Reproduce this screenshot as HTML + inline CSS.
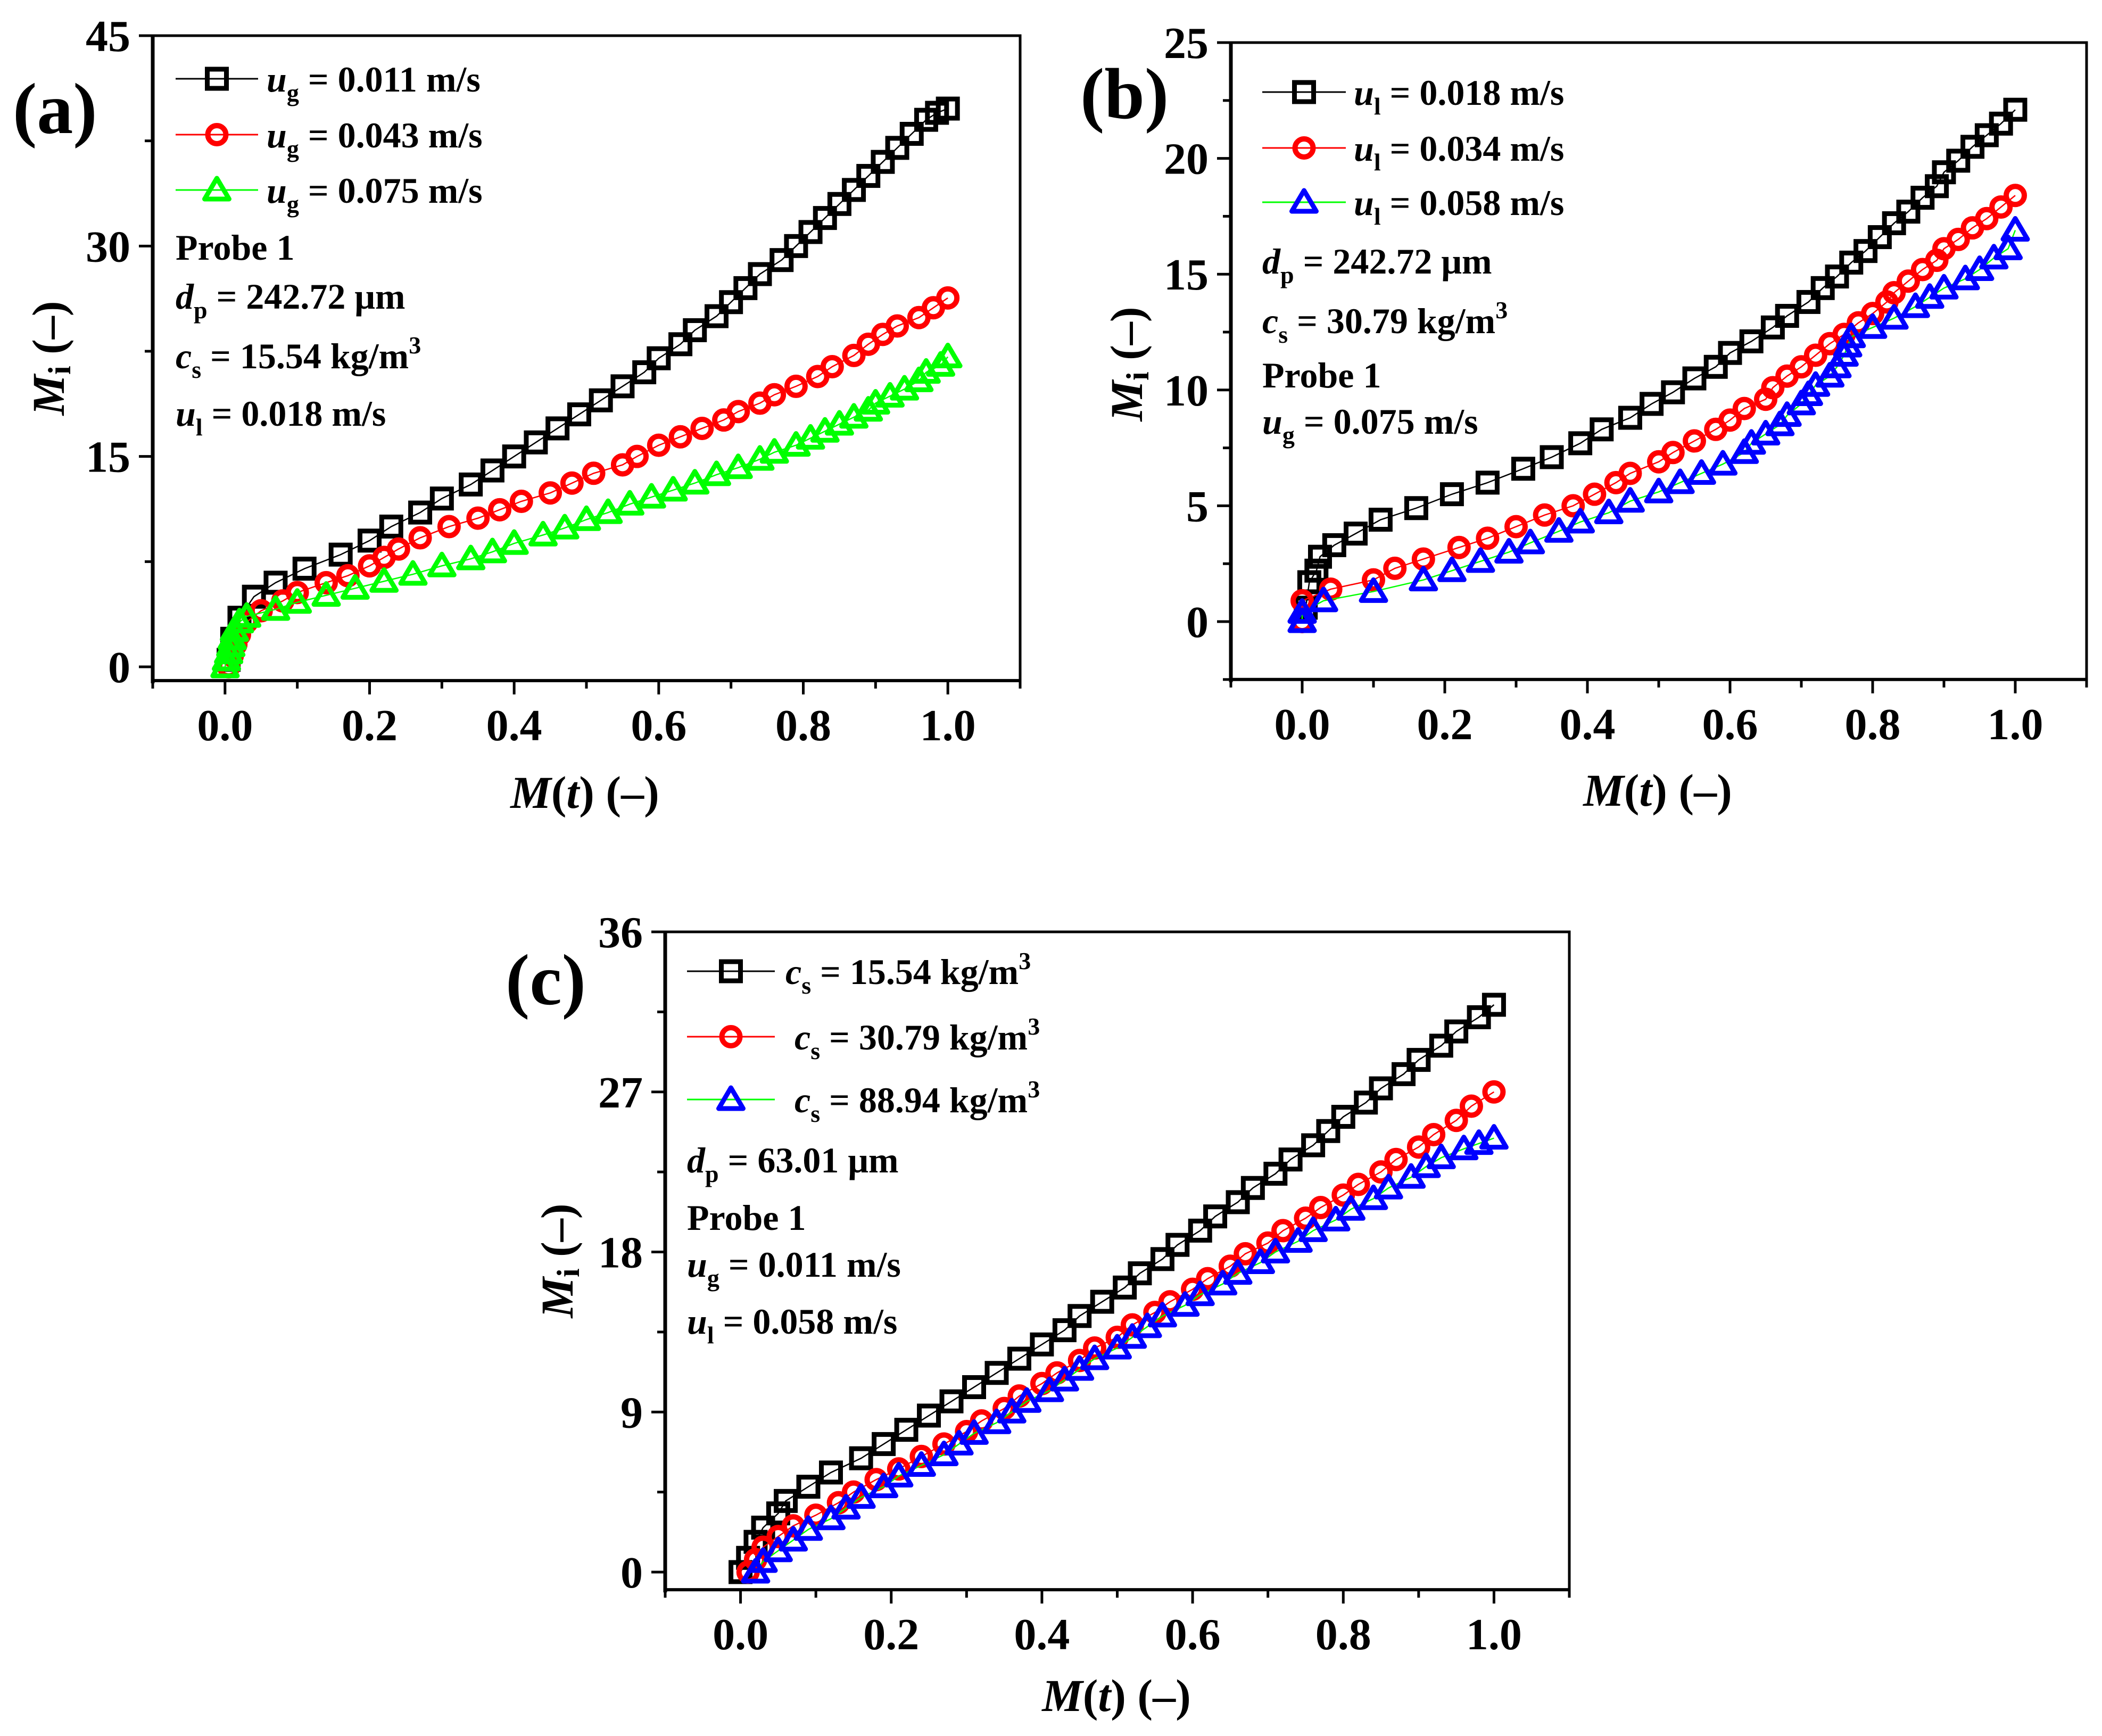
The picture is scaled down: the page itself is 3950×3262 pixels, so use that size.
<!DOCTYPE html>
<html><head><meta charset="utf-8"><style>
html,body{margin:0;padding:0;background:#fff;}
svg{display:block;font-family:"Liberation Serif","DejaVu Serif",serif;font-weight:bold;}
</style></head><body>
<svg id="fig" xmlns="http://www.w3.org/2000/svg" width="3950" height="3262" viewBox="0 0 3950 3262">
<rect width="3950" height="3262" fill="#fff"/>
<g id="pa"></g>
<g id="pb"></g>
<g id="pc"></g>

<text x="24" y="250" font-size="136">(a)</text>
<text x="1099" y="1518" font-size="86" text-anchor="middle"><tspan font-style="italic">M</tspan>(<tspan font-style="italic">t</tspan>) (–)</text>
<text transform="translate(120,673) rotate(-90)" font-size="86" text-anchor="middle"><tspan font-style="italic">M</tspan><tspan font-size="60" dy="12">i</tspan><tspan dy="-12"> (–)</tspan></text>
<g font-size="68">
<text x="501" y="172"><tspan font-style="italic">u</tspan><tspan font-size="46" dy="18">g</tspan><tspan dy="-18"> = 0.011 m/s</tspan></text>
<text x="501" y="277"><tspan font-style="italic">u</tspan><tspan font-size="46" dy="18">g</tspan><tspan dy="-18"> = 0.043 m/s</tspan></text>
<text x="501" y="381"><tspan font-style="italic">u</tspan><tspan font-size="46" dy="18">g</tspan><tspan dy="-18"> = 0.075 m/s</tspan></text>
<text x="330" y="488">Probe 1</text>
<text x="330" y="580"><tspan font-style="italic">d</tspan><tspan font-size="46" dy="18">p</tspan><tspan dy="-18"> = 242.72 μm</tspan></text>
<text x="330" y="692"><tspan font-style="italic">c</tspan><tspan font-size="46" dy="18">s</tspan><tspan dy="-18"> = 15.54 kg/m</tspan><tspan font-size="46" dy="-28">3</tspan></text>
<text x="330" y="800"><tspan font-style="italic">u</tspan><tspan font-size="46" dy="18">l</tspan><tspan dy="-18"> = 0.018 m/s</tspan></text>
</g>

<text x="2030" y="222" font-size="136">(b)</text>
<text x="3115" y="1514" font-size="86" text-anchor="middle"><tspan font-style="italic">M</tspan>(<tspan font-style="italic">t</tspan>) (–)</text>
<text transform="translate(2146,684) rotate(-90)" font-size="86" text-anchor="middle"><tspan font-style="italic">M</tspan><tspan font-size="60" dy="12">i</tspan><tspan dy="-12"> (–)</tspan></text>
<g font-size="68">
<text x="2544" y="197"><tspan font-style="italic">u</tspan><tspan font-size="46" dy="18">l</tspan><tspan dy="-18"> = 0.018 m/s</tspan></text>
<text x="2544" y="302"><tspan font-style="italic">u</tspan><tspan font-size="46" dy="18">l</tspan><tspan dy="-18"> = 0.034 m/s</tspan></text>
<text x="2544" y="404"><tspan font-style="italic">u</tspan><tspan font-size="46" dy="18">l</tspan><tspan dy="-18"> = 0.058 m/s</tspan></text>
<text x="2372" y="514"><tspan font-style="italic">d</tspan><tspan font-size="46" dy="18">p</tspan><tspan dy="-18"> = 242.72 μm</tspan></text>
<text x="2372" y="626"><tspan font-style="italic">c</tspan><tspan font-size="46" dy="18">s</tspan><tspan dy="-18"> = 30.79 kg/m</tspan><tspan font-size="46" dy="-28">3</tspan></text>
<text x="2372" y="728">Probe 1</text>
<text x="2372" y="815"><tspan font-style="italic">u</tspan><tspan font-size="46" dy="18">g</tspan><tspan dy="-18"> = 0.075 m/s</tspan></text>
</g>

<text x="950" y="1887" font-size="136">(c)</text>
<text x="2098" y="3215" font-size="86" text-anchor="middle"><tspan font-style="italic">M</tspan>(<tspan font-style="italic">t</tspan>) (–)</text>
<text transform="translate(1076,2369) rotate(-90)" font-size="86" text-anchor="middle"><tspan font-style="italic">M</tspan><tspan font-size="60" dy="12">i</tspan><tspan dy="-12"> (–)</tspan></text>
<g font-size="68">
<text x="1476" y="1849"><tspan font-style="italic">c</tspan><tspan font-size="46" dy="18">s</tspan><tspan dy="-18"> = 15.54 kg/m</tspan><tspan font-size="46" dy="-28">3</tspan></text>
<text x="1493" y="1972"><tspan font-style="italic">c</tspan><tspan font-size="46" dy="18">s</tspan><tspan dy="-18"> = 30.79 kg/m</tspan><tspan font-size="46" dy="-28">3</tspan></text>
<text x="1493" y="2090"><tspan font-style="italic">c</tspan><tspan font-size="46" dy="18">s</tspan><tspan dy="-18"> = 88.94 kg/m</tspan><tspan font-size="46" dy="-28">3</tspan></text>
<text x="1291" y="2203"><tspan font-style="italic">d</tspan><tspan font-size="46" dy="18">p</tspan><tspan dy="-18"> = 63.01 μm</tspan></text>
<text x="1291" y="2311">Probe 1</text>
<text x="1291" y="2399"><tspan font-style="italic">u</tspan><tspan font-size="46" dy="18">g</tspan><tspan dy="-18"> = 0.011 m/s</tspan></text>
<text x="1291" y="2506"><tspan font-style="italic">u</tspan><tspan font-size="46" dy="18">l</tspan><tspan dy="-18"> = 0.058 m/s</tspan></text>
</g>
</svg>
<script>
const xTickLabels = ["0.0","0.2","0.4","0.6","0.8","1.0"];
const yTicksA = ["0","15","30","45"];
const yTicksB = ["0","5","10","15","20","25"];
const yTicksC = ["0","9","18","27","36"];

const aBlackX = [0.005,0.01,0.02,0.04,0.07,0.11,0.16,0.2,0.23,0.27,0.3,0.34,0.37,0.4,0.43,0.46,0.49,0.52,0.55,0.58,0.6,0.63,0.65,0.68,0.7,0.72,0.74,0.77,0.79,0.81,0.83,0.85,0.87,0.89,0.91,0.93,0.95,0.97,0.985,1.0];
const aBlackY = [0.5,2,3.5,5,6,7,8,9,10,11,12,13,14,15,16,17,18,19,20,21,22,23,24,25,26,27,28,29,30,31,32,33,34,35,36,37,38,39,39.5,39.8];
const aRedX = [0.005,0.01,0.015,0.02,0.03,0.05,0.08,0.1,0.14,0.17,0.2,0.22,0.24,0.27,0.31,0.35,0.38,0.41,0.45,0.48,0.51,0.55,0.57,0.6,0.63,0.66,0.69,0.71,0.74,0.76,0.79,0.82,0.84,0.87,0.89,0.91,0.93,0.96,0.98,1.0];
const aRedY = [0,0.8,1.6,2.3,3.2,4,4.7,5.3,6,6.5,7.2,7.8,8.4,9.2,10,10.6,11.2,11.8,12.4,13.1,13.8,14.4,15,15.8,16.4,17,17.6,18.2,18.8,19.4,20,20.7,21.4,22.2,23,23.7,24.3,24.9,25.6,26.3];
const aGreenX = [0,0.002,0.005,0.008,0.01,0.013,0.02,0.03,0.07,0.1,0.14,0.18,0.22,0.26,0.3,0.34,0.37,0.4,0.44,0.47,0.5,0.53,0.56,0.59,0.62,0.65,0.68,0.71,0.74,0.76,0.79,0.81,0.83,0.85,0.87,0.89,0.9,0.92,0.94,0.96,0.97,0.99,1.0];
const aGreenY = [0,0.5,1,1.5,2,2.6,3.2,3.6,4.1,4.6,5.1,5.6,6.1,6.6,7.2,7.7,8.2,8.8,9.4,9.9,10.5,11,11.6,12.1,12.6,13.1,13.7,14.2,14.8,15.3,15.8,16.3,16.8,17.3,17.8,18.3,18.8,19.3,19.8,20.4,21,21.5,22.1];

const bBlackX = [0.005,0.01,0.02,0.025,0.045,0.075,0.11,0.16,0.21,0.26,0.31,0.35,0.39,0.42,0.46,0.49,0.52,0.55,0.58,0.6,0.63,0.66,0.68,0.71,0.73,0.75,0.77,0.79,0.81,0.83,0.85,0.87,0.89,0.9,0.92,0.94,0.96,0.98,1.0];
const bBlackY = [0.6,1.7,2.2,2.8,3.3,3.8,4.4,4.9,5.5,6,6.6,7.1,7.7,8.3,8.8,9.4,9.9,10.5,11,11.6,12.1,12.7,13.2,13.8,14.4,14.9,15.5,16,16.6,17.2,17.7,18.3,18.8,19.4,19.9,20.5,21,21.5,22.1];
const bRedX = [0,0,0.04,0.1,0.13,0.17,0.22,0.26,0.3,0.34,0.38,0.41,0.44,0.46,0.5,0.52,0.55,0.58,0.6,0.62,0.65,0.66,0.68,0.7,0.72,0.74,0.76,0.78,0.8,0.82,0.83,0.85,0.87,0.89,0.9,0.92,0.94,0.96,0.98,1.0];
const bRedY = [0,0.9,1.4,1.8,2.3,2.7,3.2,3.6,4.1,4.6,5,5.5,6,6.4,6.9,7.3,7.8,8.3,8.7,9.2,9.6,10.1,10.6,11,11.5,12,12.4,12.9,13.3,13.8,14.2,14.7,15.2,15.6,16.1,16.5,17,17.4,17.9,18.4];
const bBlueX = [0,0,0.03,0.1,0.17,0.21,0.25,0.29,0.32,0.36,0.39,0.43,0.46,0.5,0.53,0.56,0.59,0.62,0.63,0.65,0.67,0.68,0.7,0.71,0.72,0.74,0.75,0.76,0.765,0.77,0.8,0.83,0.86,0.88,0.9,0.93,0.95,0.97,0.99,1.0];
const bBlueY = [0,0.4,0.9,1.3,1.8,2.2,2.6,3.0,3.4,3.9,4.3,4.7,5.2,5.6,6,6.4,6.8,7.3,7.7,8.1,8.5,8.9,9.4,9.8,10.2,10.6,11,11.5,11.9,12.3,12.7,13.1,13.6,14,14.4,14.8,15.2,15.7,16.1,16.9];

const cBlackX = [0,0.01,0.02,0.03,0.05,0.06,0.09,0.12,0.16,0.19,0.22,0.25,0.28,0.31,0.34,0.37,0.4,0.43,0.45,0.48,0.51,0.53,0.56,0.58,0.61,0.63,0.66,0.68,0.71,0.73,0.76,0.78,0.8,0.83,0.85,0.88,0.9,0.93,0.95,0.98,1.0];
const cBlackY = [0,0.8,1.7,2.5,3.3,4,4.8,5.6,6.4,7.2,8,8.8,9.6,10.4,11.2,12,12.8,13.6,14.4,15.2,16,16.8,17.6,18.4,19.2,20,20.8,21.6,22.4,23.2,24,24.8,25.6,26.4,27.2,28,28.8,29.6,30.4,31.2,31.9];
const cRedX = [0.01,0.02,0.03,0.05,0.07,0.1,0.13,0.15,0.18,0.21,0.24,0.27,0.3,0.32,0.35,0.37,0.4,0.42,0.45,0.47,0.5,0.52,0.55,0.57,0.6,0.62,0.65,0.67,0.7,0.72,0.75,0.77,0.8,0.82,0.85,0.87,0.9,0.92,0.95,0.97,1.0];
const cRedY = [0,0.7,1.4,2,2.6,3.2,3.9,4.5,5.2,5.8,6.5,7.2,7.9,8.5,9.2,9.9,10.6,11.2,11.9,12.6,13.2,13.9,14.6,15.2,15.9,16.5,17.2,17.9,18.5,19.2,19.9,20.5,21.2,21.8,22.5,23.2,23.9,24.6,25.4,26.2,27.0];
const cBlueX = [0.02,0.03,0.05,0.07,0.09,0.12,0.14,0.16,0.19,0.21,0.24,0.27,0.29,0.31,0.34,0.36,0.38,0.41,0.43,0.45,0.47,0.5,0.52,0.54,0.56,0.59,0.61,0.64,0.66,0.69,0.71,0.74,0.76,0.79,0.81,0.84,0.86,0.89,0.91,0.93,0.96,0.98,1.0];
const cBlueY = [0,0.6,1.2,1.8,2.4,3,3.6,4.2,4.8,5.4,6,6.6,7.2,7.8,8.4,9,9.6,10.2,10.8,11.4,12,12.6,13.2,13.8,14.4,15,15.6,16.2,16.8,17.4,18,18.6,19.2,19.8,20.4,21,21.6,22.2,22.8,23.3,23.8,24.1,24.4];

const NS = "http://www.w3.org/2000/svg";
function mk(tag, parent, attrs){
  const e = document.createElementNS(NS, tag);
  for (const k in attrs) e.setAttribute(k, attrs[k]);
  parent.appendChild(e);
  return e;
}
function marker(g, shape, cx, cy, color){
  let m;
  if (shape === "sq") m = mk("rect", g, {x:cx-18, y:cy-18, width:36, height:36, fill:"none", stroke:color, "stroke-width":9});
  else if (shape === "ci") m = mk("circle", g, {cx:cx, cy:cy, r:17, fill:"none", stroke:color, "stroke-width":10});
  else m = mk("polygon", g, {points:(cx-23)+","+(cy+17)+" "+(cx+23)+","+(cy+17)+" "+cx+","+(cy-22), fill:"none", stroke:color, "stroke-width":9, "stroke-linejoin":"round"});
  return m;
}
function panel(id, P){
  const g = document.getElementById(id);
  const sx = v => P.x0 + (v - P.xmin) / (P.xmax - P.xmin) * (P.x1 - P.x0);
  const sy = v => P.yZero - v * P.yUnit;
  const bottom = sy(P.ymin), top = sy(P.ymax);
  const fr = mk("rect", g, {x:P.x0, y:top, width:P.x1-P.x0, height:bottom-top, fill:"none", stroke:"#000", "stroke-width":5});
  
  
  const la = mk("line", g, {x1:P.x0, y1:top-2, x2:P.x0, y2:bottom+5, stroke:"#000", "stroke-width":7});
  
  
  const ba = mk("line", g, {x1:P.x0-3, y1:bottom, x2:P.x1+2, y2:bottom, stroke:"#000", "stroke-width":6});
  
  
  for (let i = -1; i <= 11; i++){
    const v = i / 10, x = sx(v), major = (i % 2 === 0 && i >= 0);
    const t = mk("line", g, {x1:x, y1:bottom, x2:x, y2:bottom + (major ? 26 : 15), stroke:"#000", "stroke-width":5});
    
    
  }
  xTickLabels.forEach(s => {
    const tx = mk("text", g, {x:sx(parseFloat(s)), y:bottom + 112, "font-size":84, "text-anchor":"middle"});
    tx.textContent = s;
    
    
  });
  const step = parseFloat(P.yTicks[1]) - parseFloat(P.yTicks[0]);
  for (let v = P.ymin <= -step/2 + 1e-9 ? -step/2 : 0; v <= P.ymax + 1e-9; v += step/2){
    const major = Math.abs(v / step - Math.round(v / step)) < 1e-6;
    const y = sy(v);
    const t = mk("line", g, {x1:P.x0 - (major ? 26 : 15), y1:y, x2:P.x0, y2:y, stroke:"#000", "stroke-width":5});
    
    
  }
  P.yTicks.forEach(s => {
    const ty = mk("text", g, {x:P.x0 - 42, y:sy(parseFloat(s)) + 29, "font-size":84, "text-anchor":"end"});
    ty.textContent = s;
    
    
  });
  P.series.forEach((S, k) => {
    const sg = mk("g", g, {});
    
    
    const pts = S.xs.map((x, i) => sx(x) + "," + sy(S.ys[i])).join(" ");
    const pl = mk("polyline", sg, {points:pts, fill:"none", stroke:S.line, "stroke-width":2.5});
    
    
    S.xs.forEach((x, i) => {
      const m = marker(sg, S.shape, sx(x), sy(S.ys[i]), S.color);
      
      
    });
    const ly = P.legY[k];
    const ll = mk("line", g, {x1:P.legX0, y1:ly, x2:P.legX1, y2:ly, stroke:S.line, "stroke-width":3});
    
    
    const lm = marker(g, S.shape, (P.legX0 + P.legX1) / 2, ly, S.color);
    
    
  });
}
panel("pa", {x0:287, x1:1917, xmin:-0.1, xmax:1.1, yZero:1253, yUnit:(1253-67)/45, ymin:-0.98, ymax:45,
  yTicks:yTicksA, legX0:330, legX1:485, legY:[148,253,357],
  series:[
    {name:"ug-0.011", xs:aBlackX, ys:aBlackY, shape:"sq", color:"#000", line:"#000"},
    {name:"ug-0.043", xs:aRedX, ys:aRedY, shape:"ci", color:"#ff0000", line:"#ff0000"},
    {name:"ug-0.075", xs:aGreenX, ys:aGreenY, shape:"tr", color:"#00ff00", line:"#00ff00"}]});
panel("pb", {x0:2313, x1:3921, xmin:-0.1, xmax:1.1, yZero:1168, yUnit:(1168-80)/25, ymin:-2.5, ymax:25,
  yTicks:yTicksB, legX0:2372, legX1:2529, legY:[173,278,380],
  series:[
    {name:"ul-0.018", xs:bBlackX, ys:bBlackY, shape:"sq", color:"#000", line:"#000"},
    {name:"ul-0.034", xs:bRedX, ys:bRedY, shape:"ci", color:"#ff0000", line:"#ff0000"},
    {name:"ul-0.058", xs:bBlueX, ys:bBlueY, shape:"tr", color:"#0000ff", line:"#00ff00"}]});
panel("pc", {x0:1250, x1:2949, xmin:-0.1, xmax:1.1, yZero:2954, yUnit:(2954-1751)/36, ymin:-0.99, ymax:36,
  yTicks:yTicksC, legX0:1291, legX1:1456, legY:[1825,1948,2066],
  series:[
    {name:"cs-15.54", xs:cBlackX, ys:cBlackY, shape:"sq", color:"#000", line:"#000"},
    {name:"cs-30.79", xs:cRedX, ys:cRedY, shape:"ci", color:"#ff0000", line:"#ff0000"},
    {name:"cs-88.94", xs:cBlueX, ys:cBlueY, shape:"tr", color:"#0000ff", line:"#00ff00"}]});
</script>
</body></html>
